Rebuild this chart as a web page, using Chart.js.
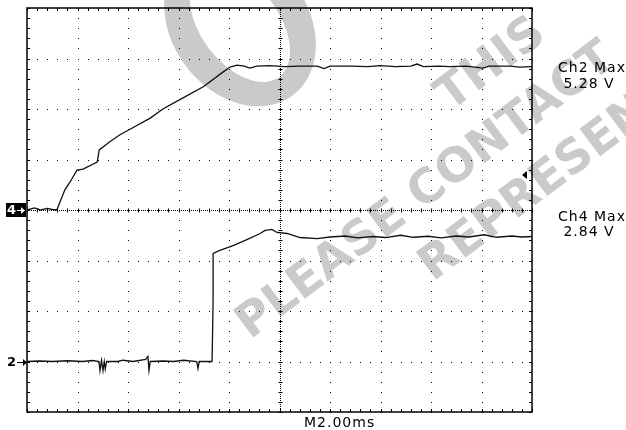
<!DOCTYPE html>
<html>
<head>
<meta charset="utf-8">
<script src="https://cdn.jsdelivr.net/npm/chart.js@4.4.0/dist/chart.umd.min.js"></script>
<style>
  html, body { margin: 0; padding: 0; background: #fff; }
</style>
</head>
<body>
<canvas id="scope" width="626" height="430"></canvas>
<script>
// time axis: M2.00ms per division, 10 divisions
var timeMin = 0, timeMax = 20;

// Ch4 (1 V/div, ground marker "4" at centre line)
var ch4Time  = [0, 0.3, 0.55, 0.8, 1.0, 1.18, 1.5, 1.7, 1.98, 2.22, 2.78, 2.86, 3.28, 3.68, 4.08, 4.88, 5.38, 6.18, 6.98, 7.76, 8.04, 8.32,
                8.6, 8.83, 9.1, 9.62, 10.2, 10.81, 11.5, 11.76, 12.0, 12.79, 13.5, 13.98, 14.6, 15.2, 15.45, 15.7, 16.3, 16.75, 17.4, 18.06, 18.3, 19.13, 19.5, 20];
var ch4Volts = [0, 0.04, 0, 0.03, 0.01, 0, 0.4, 0.55, 0.79, 0.81, 0.95, 1.19, 1.35, 1.49, 1.6, 1.82, 2.0, 2.22, 2.44, 2.73, 2.83, 2.87,
                2.85, 2.81, 2.85, 2.86, 2.84, 2.85, 2.85, 2.8, 2.85, 2.85, 2.84, 2.86, 2.84, 2.85, 2.89, 2.84, 2.85, 2.84, 2.85, 2.81, 2.85, 2.85, 2.83, 2.84];

// Ch2 (2 V/div, ground marker "2" three divisions below centre)
var ch2Time  = [0, 0.5, 1.0, 1.6, 2.2, 2.6, 2.85, 2.89, 2.95, 3.01, 3.06, 3.1, 3.15, 3.6, 3.8, 4.2, 4.7, 4.79, 4.83, 4.88, 5.4, 5.8, 6.2, 6.72, 6.77, 6.82, 7.33,
                7.37, 7.37, 7.64, 8.16, 8.71, 9.23, 9.43, 9.7, 9.9, 10.3, 10.81, 11.49, 12.0, 12.6, 13.1, 13.7, 14.2, 14.8, 15.3, 15.9, 16.4, 17.0, 17.5, 18.1, 18.6, 19.2, 19.6, 20];
var ch2Volts = [0, 0.02, 0, 0.03, 0, 0.04, 0, -0.36, 0.05, -0.36, 0, -0.3, 0, 0, 0.05, 0, 0.08, 0.2, -0.36, 0, 0.02, 0, 0.05, 0, -0.28, 0, 0,
                2.42, 4.28, 4.4, 4.59, 4.83, 5.07, 5.19, 5.23, 5.11, 5.07, 4.91, 4.87, 4.93, 4.97, 4.9, 4.95, 4.91, 5.0, 4.92, 4.96, 4.9, 4.97, 4.93, 5.02, 4.92, 4.97, 4.93, 4.95];

var readoutText = ['Ch2 Max', '5.28 V', 'Ch4 Max', '2.84 V'];
var timebaseText = 'M2.00ms';
var watermarkLines = ['THIS', 'PLEASE CONTACT', 'REPRESENTATIVE'];

function toPoints(t, v) {
  return t.map(function (x, i) { return { x: x, y: v[i] }; });
}

// watermark behind everything
var watermark = {
  id: 'watermark',
  beforeDraw: function (chart) {
    var ctx = chart.ctx;
    var tilt = -37 * Math.PI / 180;
    ctx.save();
    ctx.fillStyle = '#cacaca';
    ctx.beginPath();
    ctx.ellipse(240, 25, 68, 88, tilt, 0, Math.PI * 2);
    ctx.ellipse(240, 25, 39, 65, tilt, 0, Math.PI * 2);
    ctx.fill('evenodd');
    ctx.font = 'bold 47px "DejaVu Sans"';
    var spots = [[450, 112], [250, 340], [433, 282]];
    watermarkLines.forEach(function (txt, i) {
      ctx.save();
      ctx.translate(spots[i][0], spots[i][1]);
      ctx.rotate(tilt);
      ctx.fillText(txt, 0, 0);
      ctx.restore();
    });
    ctx.restore();
  }
};

// scope graticule: dotted divisions, ticked centre lines and border
var graticule = {
  id: 'graticule',
  beforeDatasetsDraw: function (chart) {
    var ctx = chart.ctx, xs = chart.scales.x, ys = chart.scales.y;
    var a = chart.chartArea;
    ctx.save();
    ctx.fillStyle = '#000';
    ctx.strokeStyle = '#000';
    var i, j, px, py;
    // dots on division lines
    for (i = 1; i < 10; i++) {
      if (i === 5) continue;
      px = Math.round(xs.getPixelForValue(i * 2));
      for (j = 0; j <= 40; j++) {
        py = Math.round(ys.getPixelForValue(-4 + j * 0.2));
        ctx.fillRect(px, py, 1, 1);
      }
    }
    for (i = 1; i < 8; i++) {
      if (i === 4) continue;
      py = Math.round(ys.getPixelForValue(-4 + i));
      for (j = 0; j <= 50; j++) {
        px = Math.round(xs.getPixelForValue(j * 0.4));
        ctx.fillRect(px, py, 1, 1);
      }
    }
    // centre lines
    var cx = Math.round(xs.getPixelForValue(10)) + 0.5;
    var cy = Math.round(ys.getPixelForValue(0)) + 0.5;
    ctx.lineWidth = 1;
    ctx.setLineDash([1, 1]);
    ctx.beginPath();
    ctx.moveTo(a.left, cy); ctx.lineTo(a.right, cy);
    ctx.moveTo(cx, a.top); ctx.lineTo(cx, a.bottom);
    ctx.stroke();
    ctx.setLineDash([]);
    ctx.beginPath();
    for (j = 0; j <= 50; j++) {
      px = Math.round(xs.getPixelForValue(j * 0.4)) + 0.5;
      ctx.moveTo(px, cy - 2); ctx.lineTo(px, cy + 2);
      ctx.moveTo(px, a.top); ctx.lineTo(px, a.top + 3);
      ctx.moveTo(px, a.bottom); ctx.lineTo(px, a.bottom - 3);
    }
    for (j = 0; j <= 40; j++) {
      py = Math.round(ys.getPixelForValue(-4 + j * 0.2)) + 0.5;
      ctx.moveTo(cx - 2, py); ctx.lineTo(cx + 2, py);
      ctx.moveTo(a.left, py); ctx.lineTo(a.left + 3, py);
      ctx.moveTo(a.right, py); ctx.lineTo(a.right - 3, py);
    }
    ctx.stroke();
    // frame
    ctx.lineWidth = 1.5;
    ctx.strokeRect(a.left, a.top, a.right - a.left, a.bottom - a.top);
    ctx.restore();
  },
  afterDraw: function (chart) {
    var ctx = chart.ctx, ys = chart.scales.y, y2 = chart.scales.y2;
    var g4 = Math.round(ys.getPixelForValue(0));
    var g2 = Math.round(y2.getPixelForValue(0));
    ctx.save();
    // "4" ground marker
    ctx.fillStyle = '#000';
    ctx.fillRect(6, g4 - 7, 20, 14);
    ctx.fillStyle = '#fff';
    ctx.font = 'bold 13px "DejaVu Sans"';
    ctx.textBaseline = 'middle';
    ctx.fillText('4', 7, g4 + 1);
    ctx.fillRect(17, g4, 6, 1);
    ctx.beginPath();
    ctx.moveTo(25, g4 + 0.5); ctx.lineTo(21, g4 - 3); ctx.lineTo(21, g4 + 4); ctx.closePath();
    ctx.fill();
    // "2" ground marker
    ctx.fillStyle = '#000';
    ctx.fillText('2', 7, g2 + 1);
    ctx.fillRect(17, g2, 7, 1);
    ctx.beginPath();
    ctx.moveTo(27, g2 + 0.5); ctx.lineTo(23, g2 - 3); ctx.lineTo(23, g2 + 4); ctx.closePath();
    ctx.fill();
    // trigger level marker on the right edge
    var tl = Math.round(ys.getPixelForValue(0.7));
    ctx.beginPath();
    ctx.moveTo(522, tl); ctx.lineTo(527, tl - 4); ctx.lineTo(527, tl + 4); ctx.closePath();
    ctx.fill();
    // readouts
    ctx.font = '14px "DejaVu Sans"';
    ctx.letterSpacing = '1px';
    ctx.textAlign = 'center';
    ctx.textBaseline = 'alphabetic';
    ctx.fillText(readoutText[0], 592, 72);
    ctx.fillText(readoutText[1], 589, 88);
    ctx.fillText(readoutText[2], 592, 221);
    ctx.fillText(readoutText[3], 589, 236);
    ctx.textAlign = 'left';
    ctx.fillText(timebaseText, 304, 427);
    ctx.restore();
  }
};

var scopeChart = new Chart('scope', {
  type: 'line',
  data: {
    datasets: [{
      label: 'Ch4',
      data: toPoints(ch4Time, ch4Volts),
      yAxisID: 'y',
      borderColor: '#111',
      borderWidth: 1.3,
      pointRadius: 0,
      tension: 0
    }, {
      label: 'Ch2',
      data: toPoints(ch2Time, ch2Volts),
      yAxisID: 'y2',
      borderColor: '#111',
      borderWidth: 1.3,
      pointRadius: 0,
      tension: 0
    }]
  },
  options: {
    responsive: false,
    animation: false,
    devicePixelRatio: 1,
    layout: { padding: { left: 27, right: 94, top: 8, bottom: 18 } },
    plugins: { legend: { display: false }, tooltip: { enabled: false } },
    scales: {
      x: { type: 'linear', min: timeMin, max: timeMax, display: false },
      y: { min: -4, max: 4, display: false },
      y2: { min: -2, max: 14, display: false }
    }
  },
  plugins: [watermark, graticule]
});
</script>
</body>
</html>
